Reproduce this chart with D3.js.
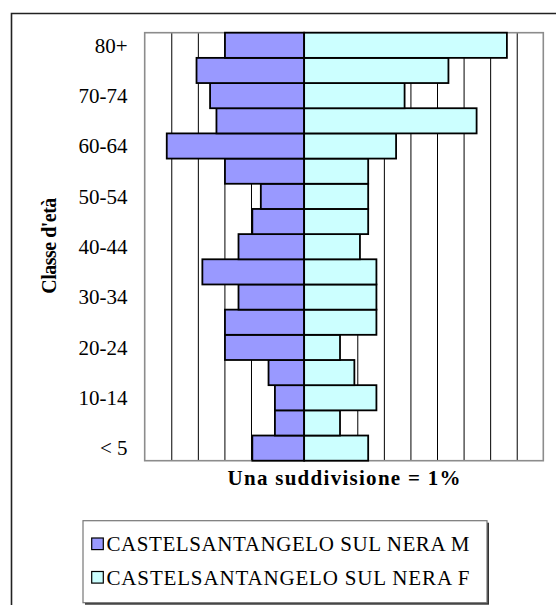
<!DOCTYPE html>
<html>
<head>
<meta charset="utf-8">
<script src="https://cdn.jsdelivr.net/npm/d3@7"></script>
<style>
  html, body { margin: 0; padding: 0; background: #fff; }
  svg { display: block; }
</style>
</head>
<body>
<svg id="chart" width="556" height="605"></svg>
<script>
// ---- data (bottom to top) ----
const categories = ["< 5","5-9","10-14","15-19","20-24","25-29","30-34","35-39","40-44","45-49","50-54","55-59","60-64","65-69","70-74","75-79","80+"];
const maleValues   = [1.95, 1.10, 1.10, 1.34, 2.98, 2.98, 2.47, 3.83, 2.47, 1.95, 1.63, 2.98, 5.17, 3.30, 3.54, 4.05, 2.98];
const femaleValues = [2.41, 1.35, 2.72, 1.89, 1.35, 2.72, 2.72, 2.72, 2.10, 2.41, 2.41, 2.41, 3.46, 6.49, 3.78, 5.43, 7.63];
const tickLabels = ["80+","70-74","60-64","50-54","40-44","30-34","20-24","10-14","< 5"];
const xDomain = [-6, 9];
const seriesNames = ["CASTELSANTANGELO SUL NERA M", "CASTELSANTANGELO SUL NERA F"];
const seriesColors = ["#9999FF", "#CCFFFF"];
const xTitle = "Una suddivisione = 1%";
const yTitle = "Classe d'età";

const svg = d3.select("#chart");
const plot = { left: 144.7, right: 543.3, top: 32.7, bottom: 460.7 };

// outer chart frame (runs off the canvas on right and bottom)
svg.append("path")
  .attr("d", `M11.5,605 V13.5 H556`)
  .attr("fill", "none").attr("stroke", "#222").attr("stroke-width", 1.6);

const x = d3.scaleLinear().domain(xDomain).range([plot.left, plot.right]);
const y = d3.scaleBand().domain(categories.slice().reverse()).range([plot.top, plot.bottom]).padding(0);

// vertical gridlines
svg.append("g")
  .attr("transform", `translate(0,${plot.top})`)
  .call(d3.axisBottom(x).tickValues(d3.range(xDomain[0] + 1, xDomain[1])).tickSize(plot.bottom - plot.top).tickFormat(""))
  .call(g => g.select(".domain").remove())
  .call(g => g.selectAll(".tick line").attr("stroke", "#000").attr("stroke-width", 1));

// plot border
svg.append("rect")
  .attr("x", plot.left).attr("y", plot.top)
  .attr("width", plot.right - plot.left).attr("height", plot.bottom - plot.top)
  .attr("fill", "none").attr("stroke", "#8c8c8c").attr("stroke-width", 1.6);

// bars
const rows = categories.map((c, i) => ({ c, m: maleValues[i], f: femaleValues[i] }));
svg.append("g").selectAll("rect").data(rows).join("rect")
  .attr("x", d => x(-d.m)).attr("width", d => x(0) - x(-d.m))
  .attr("y", d => y(d.c)).attr("height", y.bandwidth())
  .attr("fill", seriesColors[0]).attr("stroke", "#000").attr("stroke-width", 1.8);
svg.append("g").selectAll("rect").data(rows).join("rect")
  .attr("x", x(0)).attr("width", d => x(d.f) - x(0))
  .attr("y", d => y(d.c)).attr("height", y.bandwidth())
  .attr("fill", seriesColors[1]).attr("stroke", "#000").attr("stroke-width", 1.8);

// y tick labels (every other category)
svg.append("g").selectAll("text").data(tickLabels).join("text")
  .attr("x", 127.5).attr("y", d => y(d) + y.bandwidth() / 2)
  .attr("dy", "0.35em").attr("text-anchor", "end")
  .attr("font-family", "'Liberation Serif', 'Times New Roman', serif")
  .attr("font-size", 21).attr("fill", "#000")
  .text(d => d);

// axis titles
svg.append("text")
  .attr("x", (plot.left + plot.right) / 2).attr("y", 485)
  .attr("text-anchor", "middle")
  .attr("font-family", "'Liberation Serif', 'Times New Roman', serif")
  .attr("font-weight", "bold").attr("font-size", 21)
  .attr("textLength", 233).attr("lengthAdjust", "spacing")
  .text(xTitle);

svg.append("text")
  .attr("transform", `translate(56,${(plot.top + plot.bottom) / 2 - 1}) rotate(-90)`)
  .attr("text-anchor", "middle")
  .attr("font-family", "'Liberation Serif', 'Times New Roman', serif")
  .attr("font-weight", "bold").attr("font-size", 20)
  .attr("textLength", 96).attr("lengthAdjust", "spacing")
  .text(yTitle);

// legend
const legend = svg.append("g");
legend.append("rect")
  .attr("x", 85).attr("y", 522.7).attr("width", 404).attr("height", 82)
  .attr("fill", "#333");
legend.append("rect")
  .attr("x", 83).attr("y", 520.7).attr("width", 404).attr("height", 82)
  .attr("fill", "#fff").attr("stroke", "#777").attr("stroke-width", 1.2);
const legendRows = [544, 577.5];
seriesNames.forEach((name, i) => {
  legend.append("rect")
    .attr("x", 91.7).attr("y", legendRows[i] - 6).attr("width", 11.6).attr("height", 11.6)
    .attr("fill", seriesColors[i]).attr("stroke", "#000").attr("stroke-width", 1.2);
  legend.append("text")
    .attr("x", 106.5).attr("y", legendRows[i]).attr("dy", "0.35em")
    .attr("font-family", "'Liberation Serif', 'Times New Roman', serif")
    .attr("font-size", 21).attr("fill", "#000")
    .attr("textLength", 363).attr("lengthAdjust", "spacing")
    .text(name);
});
</script>
</body>
</html>
